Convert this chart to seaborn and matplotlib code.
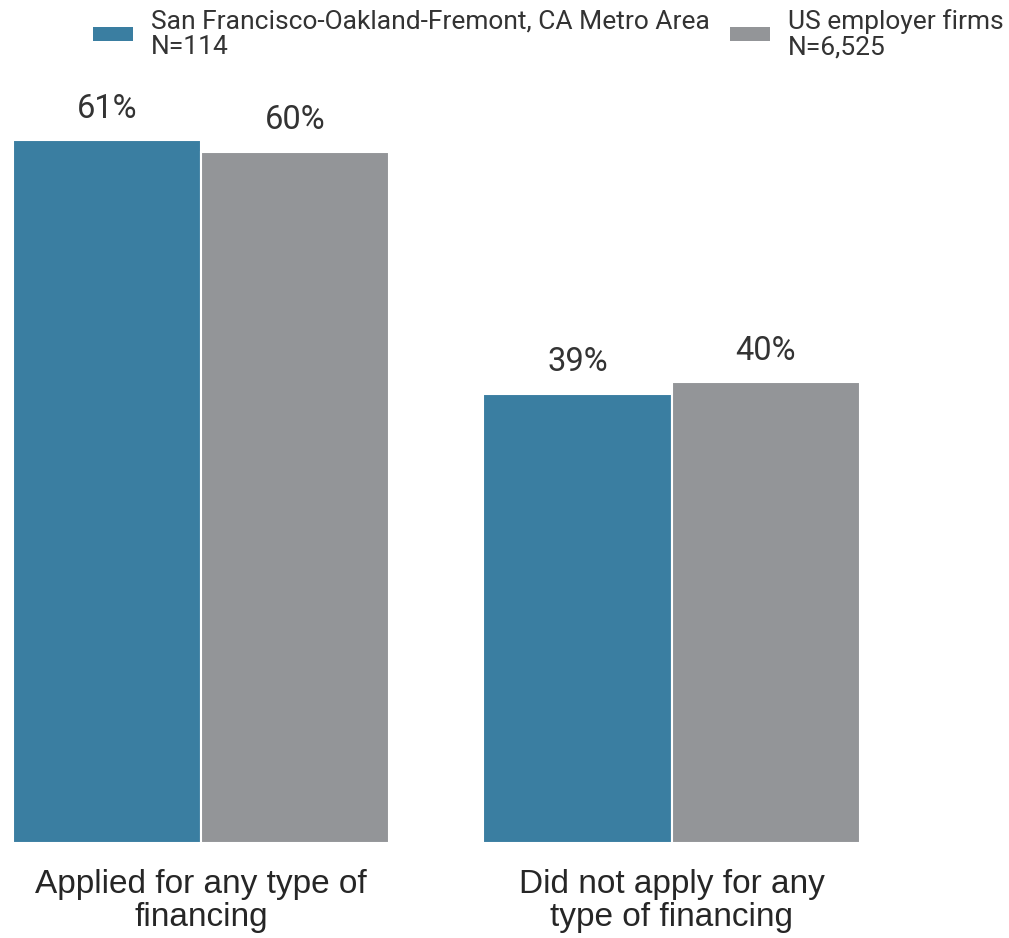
import numpy as np
import pandas as pd
import matplotlib
matplotlib.use("Agg")
import matplotlib.pyplot as plt
import seaborn as sns
from matplotlib.patches import Patch

# data
categories = ["Applied for any type of\nfinancing", "Did not apply for any\ntype of financing"]
series_names = ["San Francisco-Oakland-Fremont, CA Metro Area\nN=114", "US employer firms\nN=6,525"]
sf_values = [61, 39]
us_values = [60, 40]

colors = {series_names[0]: "#3A7EA1", series_names[1]: "#939598"}

df = pd.DataFrame({
    "category": categories * 2,
    "series": [series_names[0]] * 2 + [series_names[1]] * 2,
    "value": sf_values + us_values,
})

sns.set_theme(style="white")
plt.rcParams["font.family"] = ["Roboto", "DejaVu Sans"]

fig = plt.figure(figsize=(10.09, 9.38), dpi=100)
ax = fig.add_axes([0, 0.1013, 1, 0.86])

sns.barplot(data=df, x="category", y="value", hue="series", palette=colors,
            saturation=1, width=0.8, edgecolor="white", linewidth=1.5,
            legend=False, ax=ax)

for cont in ax.containers:
    ax.bar_label(cont, fmt="{:.0f}%", padding=11, fontsize=23.5, color="#333333",
                 family=["Roboto", "DejaVu Sans"])

ax.set_xlim(-0.427, 1.717)
ax.set_ylim(0, 70)
ax.set_xlabel("")
ax.set_ylabel("")
ax.set_yticks([])
for s in ax.spines.values():
    s.set_visible(False)
ax.tick_params(axis="x", length=0, pad=19)
for lbl in ax.get_xticklabels():
    lbl.set_family(["Liberation Sans", "DejaVu Sans"])
    lbl.set_fontsize(24)
    lbl.set_color("#262626")
    lbl.set_linespacing(1.07)

handles = [Patch(facecolor=colors[n], edgecolor="none") for n in series_names]
leg = fig.legend(handles, series_names, loc="upper left", bbox_to_anchor=(80 / 1009, 1 + 4 / 938),
                 ncol=2, frameon=False, fontsize=19, handlelength=1.5, handleheight=0.45,
                 handletextpad=0.7, columnspacing=0.75, borderpad=0, labelcolor="#333333")
for t in leg.get_texts():
    t.set_linespacing(1.05)

plt.savefig("out.png", dpi=100, facecolor="white")
plt.close()
